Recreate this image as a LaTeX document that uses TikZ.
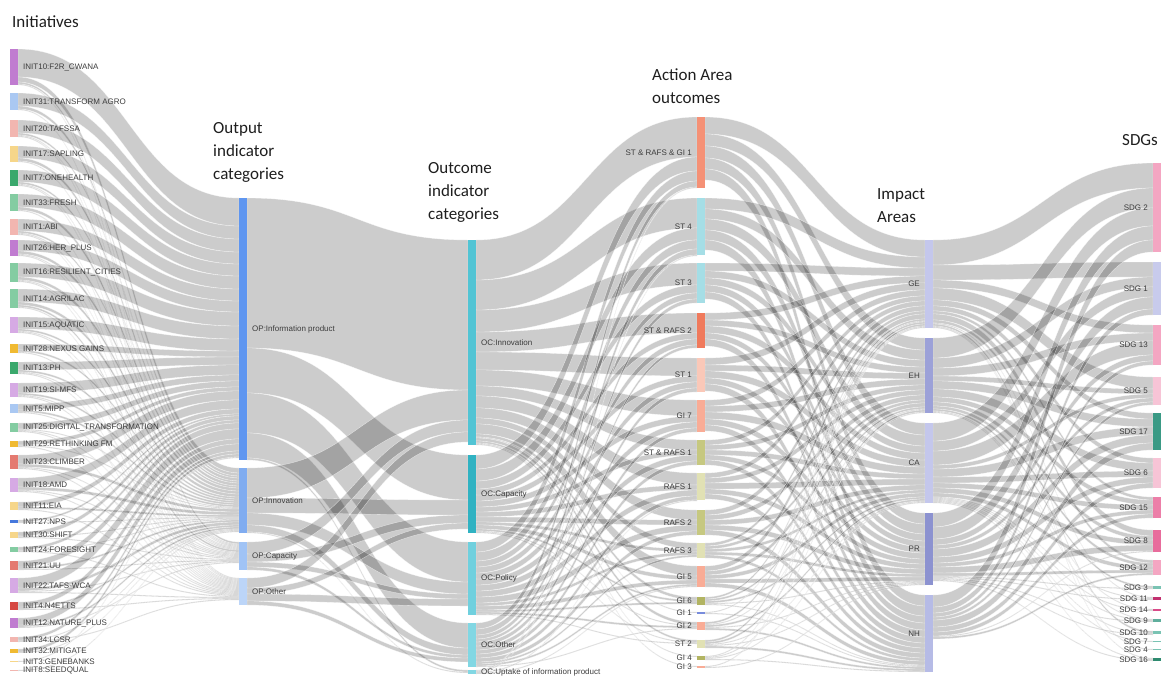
\documentclass[tikz,border=0pt]{standalone}
\usepackage{fontspec}
\setsansfont{Liberation Sans}
\newfontfamily\headfont{Carlito}
\usetikzlibrary{positioning,backgrounds}

% node colours
\definecolor{purpleA}{RGB}{192,124,208}
\definecolor{purpleB}{RGB}{214,170,228}
\definecolor{blueA}{RGB}{170,200,242}
\definecolor{blueB}{RGB}{70,120,220}
\definecolor{salmonA}{RGB}{242,182,176}
\definecolor{salmonB}{RGB}{228,122,112}
\definecolor{redA}{RGB}{214,72,66}
\definecolor{yellowA}{RGB}{246,214,138}
\definecolor{yellowB}{RGB}{240,186,50}
\definecolor{greenA}{RGB}{58,168,108}
\definecolor{greenB}{RGB}{132,204,162}
\definecolor{opA}{RGB}{95,150,240}
\definecolor{opB}{RGB}{128,172,240}
\definecolor{opC}{RGB}{160,195,245}
\definecolor{opD}{RGB}{188,213,248}
\definecolor{ocA}{RGB}{82,196,212}
\definecolor{ocB}{RGB}{48,178,194}
\definecolor{ocC}{RGB}{112,208,222}
\definecolor{ocD}{RGB}{130,215,227}
\definecolor{aaOrange}{RGB}{245,145,118}
\definecolor{aaCyan}{RGB}{165,222,230}
\definecolor{aaRed}{RGB}{240,122,92}
\definecolor{aaPeach}{RGB}{250,200,184}
\definecolor{aaSalmon}{RGB}{249,172,150}
\definecolor{aaOlive}{RGB}{198,200,128}
\definecolor{aaOliveL}{RGB}{225,225,180}
\definecolor{aaOliveD}{RGB}{178,180,98}
\definecolor{aaBlue}{RGB}{120,140,220}
\definecolor{iaL}{RGB}{196,199,236}
\definecolor{iaM}{RGB}{156,161,216}
\definecolor{iaD}{RGB}{140,146,208}
\definecolor{iaN}{RGB}{182,187,230}
\definecolor{sdPink}{RGB}{244,166,194}
\definecolor{sdLav}{RGB}{200,203,236}
\definecolor{sdPinkL}{RGB}{247,196,214}
\definecolor{sdPinkM}{RGB}{236,127,168}
\definecolor{sdPinkD}{RGB}{232,108,156}
\definecolor{sdTeal}{RGB}{58,154,133}
\definecolor{sdTealL}{RGB}{122,195,179}
\definecolor{sdTealM}{RGB}{95,174,156}
\definecolor{sdTealD}{RGB}{46,138,111}
\definecolor{sdMag}{RGB}{194,48,111}
\definecolor{sdRose}{RGB}{217,74,136}
\definecolor{labgray}{RGB}{60,60,60}
\definecolor{headgray}{RGB}{30,30,30}

\tikzset{
  bar/.style={rectangle, anchor=north west, inner sep=0pt, outer sep=0pt, minimum width=8pt},
  link/.style={fill=black, fill opacity=0.2, draw=white, draw opacity=0.7, line width=0.3pt},
  labr/.style={right=5pt of #1, inner sep=0pt, text=labgray, font=\sffamily\fontsize{8}{9}\selectfont},
  labl/.style={left=5pt of #1, inner sep=0pt, text=labgray, font=\sffamily\fontsize{8}{9}\selectfont},
  head/.style={anchor=north west, align=left, inner sep=0pt, text=headgray, font=\headfont\fontsize{17}{23}\selectfont}
}

% bar node: name, x, top, bottom, colour, label side, label
\newcommand{\sknode}[7]{%
  \node[bar, fill=#5, minimum height={(#4-#3)*1pt}] (#1) at (#2,#3) {};
  \node[#6=#1] (#1-t) {#7};
  \expandafter\gdef\csname fo@#1\endcsname{0}%
  \expandafter\gdef\csname fi@#1\endcsname{0}%
}
% band from node to node, stacked on both ends
\newcommand{\sklink}[3]{%
  \edef\fso{\csname fo@#1\endcsname}%
  \edef\fsi{\csname fi@#2\endcsname}%
  \filldraw[link] ([yshift=-\fso pt]#1.north east) .. controls +(110,0) and +(-110,0) .. ([yshift=-\fsi pt]#2.north west)
    -- ([yshift={-(\fsi+#3)*1pt}]#2.north west) .. controls +(-110,0) and +(110,0) .. ([yshift={-(\fso+#3)*1pt}]#1.north east) -- cycle;
  \pgfmathsetmacro\fnew{\fso+#3}\expandafter\xdef\csname fo@#1\endcsname{\fnew}%
  \pgfmathsetmacro\fnew{\fsi+#3}\expandafter\xdef\csname fi@#2\endcsname{\fnew}%
}

\begin{document}
\begin{tikzpicture}[x=1pt, y=-1pt]
  \useasboundingbox (0,0) rectangle (1167,675);

  % column titles
  \node[head] (h1) at (12,15.5) {Initiatives};
  \node[head] (h2) at (213,122.5) {Output\\indicator\\categories};
  \node[head] (h3) at (428,162.5) {Outcome\\indicator\\categories};
  \node[head] (h4) at (652,68.5) {Action Area\\outcomes};
  \node[head] (h5) at (877,188.5) {Impact\\Areas};
  \node[head] (h6) at (1122,134.5) {SDGs};

  % Initiatives
  \sknode{i10}{10}{49}{85}{purpleA}{labr}{INIT10:F2R\_CWANA}
  \sknode{i31}{10}{93}{110}{blueA}{labr}{INIT31:TRANSFORM AGRO}
  \sknode{i20}{10}{120}{137}{salmonA}{labr}{INIT20:TAFSSA}
  \sknode{i17}{10}{146}{162}{yellowA}{labr}{INIT17:SAPLING}
  \sknode{i7}{10}{170}{186}{greenA}{labr}{INIT7:ONEHEALTH}
  \sknode{i33}{10}{194}{211}{greenB}{labr}{INIT33:FRESH}
  \sknode{i1}{10}{219}{235}{salmonA}{labr}{INIT1:ABI}
  \sknode{i26}{10}{240}{256}{purpleA}{labr}{INIT26:HER\_PLUS}
  \sknode{i16}{10}{263}{282}{greenB}{labr}{INIT16:RESILIENT\_CITIES}
  \sknode{i14}{10}{289}{308}{greenB}{labr}{INIT14:AGRILAC}
  \sknode{i15}{10}{317}{333}{purpleB}{labr}{INIT15:AQUATIC}
  \sknode{i28}{10}{344}{353}{yellowB}{labr}{INIT28:NEXUS GAINS}
  \sknode{i13}{10}{362}{374}{greenA}{labr}{INIT13:PH}
  \sknode{i19}{10}{383}{397}{purpleB}{labr}{INIT19:SI-MFS}
  \sknode{i5}{10}{404}{413}{blueA}{labr}{INIT5:MIPP}
  \sknode{i25}{10}{423}{432}{greenB}{labr}{INIT25:DIGITAL\_TRANSFORMATION}
  \sknode{i29}{10}{441}{447}{yellowB}{labr}{INIT29:RETHINKING FM}
  \sknode{i23}{10}{455}{469}{salmonB}{labr}{INIT23:CLIMBER}
  \sknode{i18}{10}{478}{492}{purpleB}{labr}{INIT18:AMD}
  \sknode{i11}{10}{502}{510}{yellowA}{labr}{INIT11:EIA}
  \sknode{i27}{10}{520}{523}{blueB}{labr}{INIT27:NPS}
  \sknode{i30}{10}{532}{538}{yellowA}{labr}{INIT30:SHIFT}
  \sknode{i24}{10}{547}{552}{greenB}{labr}{INIT24:FORESIGHT}
  \sknode{i21}{10}{561}{570}{salmonB}{labr}{INIT21:UU}
  \sknode{i22}{10}{578}{593}{purpleB}{labr}{INIT22:TAFS-WCA}
  \sknode{i4}{10}{602}{610}{redA}{labr}{INIT4:N4ETTS}
  \sknode{i12}{10}{618}{628}{purpleA}{labr}{INIT12:NATURE\_PLUS}
  \sknode{i34}{10}{637}{642}{salmonA}{labr}{INIT34:LCSR}
  \sknode{i32}{10}{649}{653}{yellowB}{labr}{INIT32:MITIGATE}
  \sknode{i3}{10}{661}{662}{yellowA}{labr}{INIT3:GENEBANKS}
  \sknode{i8}{10}{670}{671}{salmonA}{labr}{INIT8:SEEDQUAL}

  % Output indicator categories
  \sknode{op1}{239}{198}{460}{opA}{labr}{OP:Information product}
  \sknode{op2}{239}{468}{533}{opB}{labr}{OP:Innovation}
  \sknode{op3}{239}{542}{570}{opC}{labr}{OP:Capacity}
  \sknode{op4}{239}{578}{605}{opD}{labr}{OP:Other}

  % Outcome indicator categories
  \sknode{oc1}{468}{240}{445}{ocA}{labr}{OC:Innovation}
  \sknode{oc2}{468}{455}{533}{ocB}{labr}{OC:Capacity}
  \sknode{oc3}{468}{542}{615}{ocC}{labr}{OC:Policy}
  \sknode{oc4}{468}{623}{667}{ocD}{labr}{OC:Other}
  \sknode{oc5}{468}{670}{674}{ocD}{labr}{OC:Uptake of information product}

  % Action Area outcomes
  \sknode{a1}{697}{117}{188}{aaOrange}{labl}{ST \& RAFS \& GI 1}
  \sknode{a2}{697}{198}{255}{aaCyan}{labl}{ST 4}
  \sknode{a3}{697}{263}{303}{aaCyan}{labl}{ST 3}
  \sknode{a4}{697}{313}{348}{aaRed}{labl}{ST \& RAFS 2}
  \sknode{a5}{697}{358}{392}{aaPeach}{labl}{ST 1}
  \sknode{a6}{697}{400}{432}{aaSalmon}{labl}{GI 7}
  \sknode{a7}{697}{440}{465}{aaOlive}{labl}{ST \& RAFS 1}
  \sknode{a8}{697}{473}{500}{aaOliveL}{labl}{RAFS 1}
  \sknode{a9}{697}{510}{535}{aaOlive}{labl}{RAFS 2}
  \sknode{a10}{697}{543}{558}{aaOliveL}{labl}{RAFS 3}
  \sknode{a11}{697}{566}{587}{aaSalmon}{labl}{GI 5}
  \sknode{a12}{697}{597}{605}{aaOliveD}{labl}{GI 6}
  \sknode{a13}{697}{612}{614}{aaBlue}{labl}{GI 1}
  \sknode{a14}{697}{622}{630}{aaSalmon}{labl}{GI 2}
  \sknode{a15}{697}{640}{648}{aaOliveL}{labl}{ST 2}
  \sknode{a16}{697}{656}{660}{aaOliveD}{labl}{GI 4}
  \sknode{a17}{697}{666}{668}{aaSalmon}{labl}{GI 3}

  % Impact Areas
  \sknode{ge}{925}{240}{328}{iaL}{labl}{GE}
  \sknode{eh}{925}{338}{413}{iaM}{labl}{EH}
  \sknode{ca}{925}{423}{503}{iaL}{labl}{CA}
  \sknode{pr}{925}{513}{585}{iaD}{labl}{PR}
  \sknode{nh}{925}{595}{672}{iaN}{labl}{NH}

  % SDGs
  \sknode{s2}{1153}{163}{252}{sdPink}{labl}{SDG 2}
  \sknode{s1}{1153}{262}{315}{sdLav}{labl}{SDG 1}
  \sknode{s13}{1153}{325}{365}{sdPink}{labl}{SDG 13}
  \sknode{s5}{1153}{377}{405}{sdPinkL}{labl}{SDG 5}
  \sknode{s17}{1153}{413}{450}{sdTeal}{labl}{SDG 17}
  \sknode{s6}{1153}{458}{488}{sdPinkL}{labl}{SDG 6}
  \sknode{s15}{1153}{497}{518}{sdPinkM}{labl}{SDG 15}
  \sknode{s8}{1153}{530}{552}{sdPinkD}{labl}{SDG 8}
  \sknode{s12}{1153}{560}{575}{sdPink}{labl}{SDG 12}
  \sknode{s3}{1153}{586}{589}{sdTealL}{labl}{SDG 3}
  \sknode{s11}{1153}{597}{600}{sdMag}{labl}{SDG 11}
  \sknode{s14}{1153}{609}{611}{sdRose}{labl}{SDG 14}
  \sknode{s9}{1153}{619}{622}{sdTealM}{labl}{SDG 9}
  \sknode{s10}{1153}{631}{634}{sdTealL}{labl}{SDG 10}
  \sknode{s7}{1153}{641}{642}{sdTealL}{labl}{SDG 7}
  \sknode{s4}{1153}{649}{650}{sdTealL}{labl}{SDG 4}
  \sknode{s16}{1153}{658}{661}{sdTealD}{labl}{SDG 16}

  \begin{scope}[on background layer]
    % initiatives -> output categories
    \foreach \src/\dst/\amt in {
      i10/op1/28, i10/op2/5, i10/op3/2, i10/op4/1,
      i31/op1/13, i31/op2/3, i31/op4/1,
      i20/op1/13, i20/op2/2, i20/op3/1, i20/op4/1,
      i17/op1/12, i17/op2/3, i17/op3/1,
      i7/op1/12, i7/op2/2, i7/op3/1, i7/op4/1,
      i33/op1/13, i33/op2/3, i33/op4/1,
      i1/op1/12, i1/op2/2, i1/op3/1, i1/op4/1,
      i26/op1/11, i26/op2/3, i26/op3/1, i26/op4/1,
      i16/op1/14, i16/op2/3, i16/op3/1, i16/op4/1,
      i14/op1/13, i14/op2/3, i14/op3/2, i14/op4/1,
      i15/op1/12, i15/op2/2, i15/op3/1, i15/op4/1,
      i28/op1/6, i28/op2/2, i28/op4/1,
      i13/op1/8, i13/op2/2, i13/op3/1, i13/op4/1,
      i19/op1/10, i19/op2/2, i19/op3/1, i19/op4/1,
      i5/op1/6, i5/op2/2, i5/op3/1,
      i25/op1/6, i25/op2/1, i25/op3/1, i25/op4/1,
      i29/op1/4, i29/op2/1, i29/op4/1,
      i23/op1/9, i23/op2/3, i23/op3/1, i23/op4/1,
      i18/op1/9, i18/op2/3, i18/op3/1, i18/op4/1,
      i11/op1/5, i11/op2/2, i11/op4/1,
      i27/op1/2, i27/op2/1,
      i30/op1/4, i30/op2/1, i30/op3/1,
      i24/op1/3, i24/op2/1, i24/op4/1,
      i21/op1/6, i21/op2/2, i21/op3/1,
      i22/op1/10, i22/op2/3, i22/op3/1, i22/op4/1,
      i4/op1/5, i4/op2/2, i4/op4/1,
      i12/op1/7, i12/op2/2, i12/op3/1,
      i34/op1/3, i34/op2/1, i34/op4/1,
      i32/op1/3, i32/op2/1,
      i3/op1/1, i8/op2/1}
      \sklink{\src}{\dst}{\amt};

    % output -> outcome categories
    \foreach \src/\dst/\amt in {
      op1/oc1/150, op1/oc2/45, op1/oc3/40, op1/oc4/25, op1/oc5/2,
      op2/oc1/30, op2/oc2/15, op2/oc3/12, op2/oc4/7, op2/oc5/1,
      op3/oc1/12, op3/oc2/8, op3/oc3/5, op3/oc4/3,
      op4/oc1/10, op4/oc2/6, op4/oc3/7, op4/oc4/4}
      \sklink{\src}{\dst}{\amt};

    % outcome categories -> action area outcomes
    \foreach \src/\dst/\amt in {
      oc1/a1/40, oc1/a2/30, oc1/a3/22, oc1/a4/20, oc1/a5/18, oc1/a6/16,
      oc1/a7/10, oc1/a8/12, oc1/a9/10, oc1/a10/6, oc1/a11/10, oc1/a12/3,
      oc1/a13/1, oc1/a14/3, oc1/a15/2, oc1/a16/1, oc1/a17/1,
      oc2/a1/14, oc2/a2/12, oc2/a3/8, oc2/a4/6, oc2/a5/6, oc2/a6/6,
      oc2/a7/5, oc2/a8/5, oc2/a9/5, oc2/a10/3, oc2/a11/4, oc2/a12/2,
      oc2/a14/1, oc2/a15/1,
      oc3/a1/10, oc3/a2/9, oc3/a3/6, oc3/a4/6, oc3/a5/6, oc3/a6/6,
      oc3/a7/6, oc3/a8/6, oc3/a9/6, oc3/a10/3, oc3/a11/4, oc3/a12/2,
      oc3/a14/2, oc3/a15/1,
      oc4/a1/6, oc4/a2/6, oc4/a3/4, oc4/a4/3, oc4/a5/4, oc4/a6/4,
      oc4/a7/4, oc4/a8/4, oc4/a9/4, oc4/a10/2, oc4/a11/2, oc4/a14/1,
      oc5/a1/1, oc5/a2/1, oc5/a8/1, oc5/a11/1}
      \sklink{\src}{\dst}{\amt};

    % action area outcomes -> impact areas
    \foreach \src/\dst/\amt in {
      a1/ge/17, a1/eh/12, a1/ca/12, a1/pr/11, a1/nh/11,
      a2/ge/11, a2/eh/10, a2/ca/11, a2/pr/10, a2/nh/10,
      a3/ge/8, a3/eh/7, a3/ca/7, a3/pr/7, a3/nh/7,
      a4/ge/7, a4/eh/6, a4/ca/7, a4/pr/6, a4/nh/7,
      a5/ge/7, a5/eh/6, a5/ca/7, a5/pr/6, a5/nh/7,
      a6/ge/6, a6/eh/6, a6/ca/7, a6/pr/6, a6/nh/6,
      a7/ge/5, a7/eh/5, a7/ca/5, a7/pr/5, a7/nh/5,
      a8/ge/5, a8/eh/5, a8/ca/6, a8/pr/5, a8/nh/5,
      a9/ge/5, a9/eh/5, a9/ca/5, a9/pr/5, a9/nh/5,
      a10/ge/3, a10/eh/3, a10/ca/3, a10/pr/3, a10/nh/3,
      a11/ge/5, a11/eh/4, a11/ca/4, a11/pr/4, a11/nh/4,
      a12/ge/2, a12/eh/2, a12/ca/2, a12/pr/1, a12/nh/1,
      a13/ge/1, a13/nh/1,
      a14/ge/2, a14/eh/1, a14/ca/2, a14/pr/1, a14/nh/2,
      a15/ge/2, a15/eh/2, a15/ca/1, a15/pr/1, a15/nh/2,
      a16/ge/1, a16/eh/1, a16/ca/1, a16/nh/1,
      a17/ge/1, a17/pr/1}
      \sklink{\src}{\dst}{\amt};

    % impact areas -> SDGs
    \foreach \src/\dst/\amt in {
      ge/s2/25, ge/s1/15, ge/s13/8, ge/s5/12, ge/s17/6, ge/s6/5, ge/s15/3,
      ge/s8/6, ge/s12/3, ge/s11/1, ge/s10/2, ge/s4/1, ge/s16/1,
      eh/s2/20, eh/s1/10, eh/s13/8, eh/s5/5, eh/s17/8, eh/s6/8, eh/s15/5,
      eh/s8/4, eh/s12/3, eh/s3/2, eh/s14/1, eh/s9/1,
      ca/s2/18, ca/s1/10, ca/s13/14, ca/s5/4, ca/s17/8, ca/s6/6, ca/s15/5,
      ca/s8/5, ca/s12/4, ca/s11/1, ca/s14/1, ca/s9/1, ca/s10/1, ca/s7/1, ca/s16/1,
      pr/s2/14, pr/s1/12, pr/s13/6, pr/s5/4, pr/s17/8, pr/s6/6, pr/s15/4,
      pr/s8/6, pr/s12/3, pr/s3/1, pr/s11/1, pr/s9/1, pr/s10/1, pr/s16/1,
      nh/s2/12, nh/s1/6, nh/s13/4, nh/s5/3, nh/s17/7, nh/s6/5, nh/s15/4,
      nh/s8/1, nh/s12/2}
      \sklink{\src}{\dst}{\amt};
  \end{scope}
\end{tikzpicture}
\end{document}
